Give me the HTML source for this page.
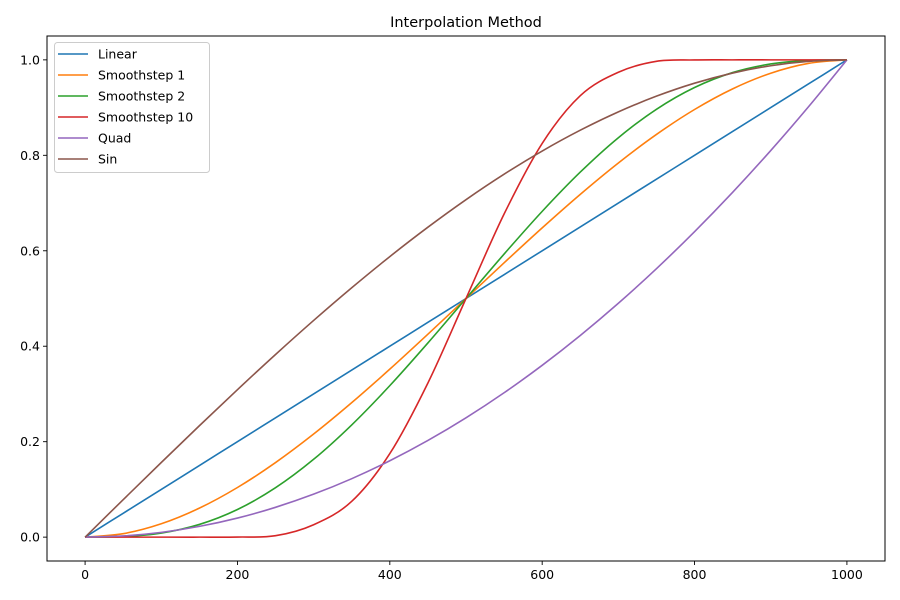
<!DOCTYPE html>
<html><head><meta charset="utf-8"><style>
html,body{margin:0;padding:0;background:#fff;}
svg{display:block;font-family:"DejaVu Sans","Liberation Sans",sans-serif;}
</style></head><body>
<svg id="chart" width="900" height="600" viewBox="0 0 900 600" xmlns="http://www.w3.org/2000/svg">
<rect width="900" height="600" fill="#fff"/>
<text x="466" y="27" text-anchor="middle" font-size="14.5" fill="#000">Interpolation Method</text>
<g id="plot"></g>
</svg>
<script>
const xValues = [0,50,100,150,200,250,300,350,400,450,500,550,600,650,700,750,800,850,900,950,1000];
const seriesNames = ["Linear","Smoothstep 1","Smoothstep 2","Smoothstep 10","Quad","Sin"];
const linearValues = [0,.05,.1,.15,.2,.25,.3,.35,.4,.45,.5,.55,.6,.65,.7,.75,.8,.85,.9,.95,1];
const smooth1Values = [0,.00725,.028,.06075,.104,.15625,.216,.28175,.352,.42525,.5,.57475,.648,.71825,.784,.84375,.896,.93925,.972,.99275,1];
const smooth2Values = [0,.00116,.00856,.02661,.05792,.10352,.16308,.23517,.31744,.40688,.5,.59312,.68256,.76483,.83692,.89648,.94208,.97339,.99144,.99884,1];
const smooth10Values = [0,0,0,0,.0002,.003,.026,.075,.175,.323,.5,.677,.825,.925,.974,.997,.9998,1,1,1,1];
const quadValues = [0,.0025,.01,.0225,.04,.0625,.09,.1225,.16,.2025,.25,.3025,.36,.4225,.49,.5625,.64,.7225,.81,.9025,1];
const sinValues = [0,.0785,.1564,.2334,.3090,.3827,.4540,.5225,.5878,.6494,.7071,.7604,.8090,.8526,.8910,.9239,.9511,.9724,.9877,.9969,1];
const xTicks = [0,200,400,600,800,1000];
const yTicks = [0,0.2,0.4,0.6,0.8,1.0];
const yTickLabels = ["0.0","0.2","0.4","0.6","0.8","1.0"];

const NS="http://www.w3.org/2000/svg";
const colors=["#1f77b4","#ff7f0e","#2ca02c","#d62728","#9467bd","#8c564b"];
const allSeries=[linearValues,smooth1Values,smooth2Values,smooth10Values,quadValues,sinValues];
const L=47,R=885,T=36,B=561;
const xMin=-50,xMax=1050,yMin=-0.05,yMax=1.05;
function sx(v){return L+(v-xMin)/(xMax-xMin)*(R-L);}
function sy(v){return B-(v-yMin)/(yMax-yMin)*(B-T);}
const plot=document.getElementById('plot');
function mk(tag,attrs,parent){const e=document.createElementNS(NS,tag);for(const k in attrs)e.setAttribute(k,attrs[k]);(parent||plot).appendChild(e);return e;}

// series
allSeries.forEach((vals,si)=>{
  const pts=xValues.map((x,i)=>[sx(x),sy(vals[i])]);
  let d="M"+pts[0][0]+","+pts[0][1];
  for(let i=0;i<pts.length-1;i++){
    const p0=pts[Math.max(0,i-1)],p1=pts[i],p2=pts[i+1],p3=pts[Math.min(pts.length-1,i+2)];
    const c1x=p1[0]+(p2[0]-p0[0])/6,c1y=p1[1]+(p2[1]-p0[1])/6;
    const c2x=p2[0]-(p3[0]-p1[0])/6,c2y=p2[1]-(p3[1]-p1[1])/6;
    d+=" C"+c1x+","+c1y+" "+c2x+","+c2y+" "+p2[0]+","+p2[1];
  }
  const p=mk('path',{d:d,fill:'none',stroke:colors[si],'stroke-width':1.6});
  
  
});

// frame
const fr=mk('rect',{x:L,y:T,width:R-L,height:B-T,fill:'none',stroke:'#000','stroke-width':1});



// x ticks
xTicks.forEach(v=>{
  const x=sx(v);
  const t=mk('line',{x1:x,x2:x,y1:B,y2:B+4,stroke:'#000','stroke-width':0.9});
  
  
  const l=mk('text',{x:x,y:B+18,'text-anchor':'middle','font-size':12.5,fill:'#000'});
  l.textContent=String(v);
  
  
});
// y ticks
yTicks.forEach((v,i)=>{
  const y=sy(v);
  const t=mk('line',{x1:L-4,x2:L,y1:y,y2:y,stroke:'#000','stroke-width':0.9});
  
  
  const l=mk('text',{x:L-7,y:y+4.5,'text-anchor':'end','font-size':12.5,fill:'#000'});
  l.textContent=yTickLabels[i];
  
  
});

// legend
const lg=mk('g',{});


const lb=mk('rect',{x:54.5,y:42.5,width:155,height:130,rx:3,fill:'#fff','fill-opacity':0.8,stroke:'#ccc','stroke-width':1},lg);


seriesNames.forEach((n,i)=>{
  const y=54+i*21;
  const ln=mk('line',{x1:58,x2:88,y1:y,y2:y,stroke:colors[i],'stroke-width':1.6},lg);
  
  
  const tx=mk('text',{x:98,y:y+4.5,'font-size':12.5,fill:'#000'},lg);
  tx.textContent=n;
  
  
});
</script>
</body></html>
